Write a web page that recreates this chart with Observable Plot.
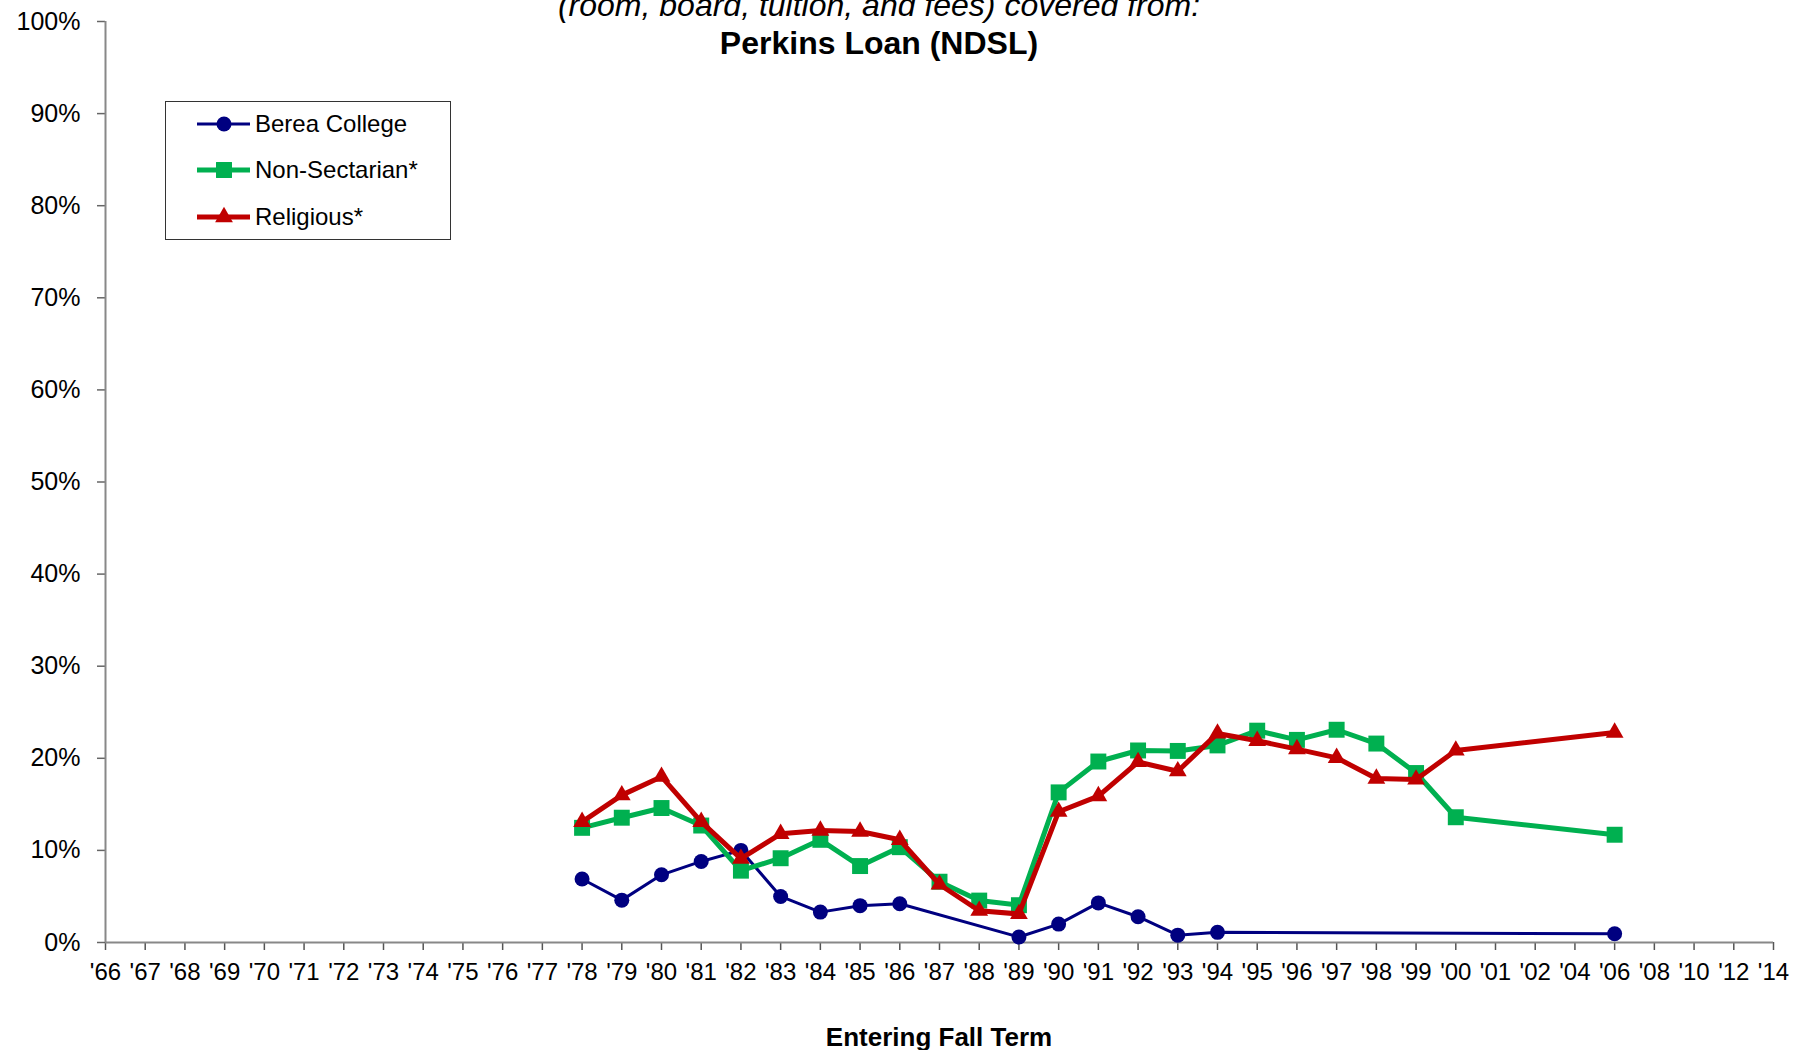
<!DOCTYPE html>
<html>
<head>
<meta charset="utf-8">
<script src="https://cdn.jsdelivr.net/npm/d3@7"></script>
<script src="https://cdn.jsdelivr.net/npm/@observablehq/plot@0.6"></script>
<style>
  html, body { margin: 0; padding: 0; background: #fff; overflow: hidden; }
  #wrap { position: relative; width: 1798px; height: 1050px; font-family: "Liberation Sans", Arial, sans-serif; color: #000; }
  #wrap svg { display: block; }
  .title { position: absolute; left: 0; width: 1758px; text-align: center; font-size: 32px; line-height: 38px; white-space: nowrap; }
  .xtitle { position: absolute; left: 439px; width: 1000px; top: 1022px; text-align: center; font-size: 26px; line-height: 30px; font-weight: bold; }
  .legend { position: absolute; left: 165px; top: 101px; width: 284px; height: 137px; border: 1px solid #333; background: #fff; }
</style>
</head>
<body>
<div id="wrap"></div>
<script>
// ---- data ----
const years = ["'66","'67","'68","'69","'70","'71","'72","'73","'74","'75","'76","'77","'78","'79","'80","'81","'82","'83","'84","'85","'86","'87","'88","'89","'90","'91","'92","'93","'94","'95","'96","'97","'98","'99","'00","'01","'02","'04","'06","'08","'10","'12","'14"];
const yTicks = [0, 0.1, 0.2, 0.3, 0.4, 0.5, 0.6, 0.7, 0.8, 0.9, 1.0];

const seriesNames = ["Berea College", "Non-Sectarian*", "Religious*"];
const seriesColors = ["#000080", "#00B050", "#C00000"];

const bereaYears = ["'78","'79","'80","'81","'82","'83","'84","'85","'86","'89","'90","'91","'92","'93","'94","'06"];
const bereaValues = [6.9, 4.6, 7.35, 8.8, 10.0, 5.0, 3.3, 4.0, 4.2, 0.6, 2.0, 4.3, 2.8, 0.8, 1.1, 0.95];

const nonSecYears = ["'78","'79","'80","'81","'82","'83","'84","'85","'86","'87","'88","'89","'90","'91","'92","'93","'94","'95","'96","'97","'98","'99","'00","'06"];
const nonSecValues = [12.45, 13.55, 14.6, 12.7, 7.8, 9.15, 11.15, 8.3, 10.35, 6.6, 4.55, 4.05, 16.3, 19.65, 20.85, 20.8, 21.4, 23.0, 22.0, 23.1, 21.6, 18.4, 13.6, 11.7];

const religiousYears = ["'78","'79","'80","'81","'82","'83","'84","'85","'86","'87","'88","'89","'90","'91","'92","'93","'94","'95","'96","'97","'98","'99","'00","'06"];
const religiousValues = [13.1, 16.0, 18.0, 13.1, 9.1, 11.8, 12.15, 12.05, 11.15, 6.3, 3.45, 3.1, 14.2, 15.9, 19.6, 18.6, 22.7, 21.9, 21.0, 20.05, 17.8, 17.7, 20.85, 22.8];

const titleLine1 = "(room, board, tuition, and fees) covered from:";
const titleLine2 = "Perkins Loan (NDSL)";
const xTitle = "Entering Fall Term";

// ---- build ----
const mk = (yrs, vals) => yrs.map((y, i) => ({year: y, value: vals[i] / 100}));
const berea = mk(bereaYears, bereaValues);
const nonSec = mk(nonSecYears, nonSecValues);
const religious = mk(religiousYears, religiousValues);

const styles = [
  {symbol: "circle", r: 7.5, lw: 3},
  {symbol: "square", r: 9, lw: 5},
  {symbol: "triangle", r: 6.6, lw: 5}
];
const datasets = [berea, nonSec, religious];

const marks = [
  Plot.axisY({ticks: yTicks, tickFormat: d3.format(".0%"), tickSize: 8, tickPadding: 17, stroke: "#666", strokeWidth: 1.5, fontSize: 25, label: null}),
  Plot.axisX({tickSize: 8, tickPadding: 12, stroke: "#555", strokeWidth: 1.5, fontSize: 24, label: null}),
  Plot.ruleY([0], {stroke: "#888", strokeWidth: 2}),
  Plot.ruleX([years[0]], {stroke: "#888", strokeWidth: 2})
];
datasets.forEach((d, i) => {
  marks.push(Plot.line(d, {x: "year", y: "value", stroke: seriesColors[i], strokeWidth: styles[i].lw}));
  marks.push(Plot.dot(d, {x: "year", y: "value", fill: seriesColors[i], stroke: "none", symbol: styles[i].symbol, r: styles[i].r}));
});

const chart = Plot.plot({
  width: 1798,
  height: 1050,
  marginLeft: 105,
  marginRight: 25,
  marginTop: 21,
  marginBottom: 108,
  style: {fontFamily: "'Liberation Sans', Arial, sans-serif", fontSize: "25px", color: "black", background: "white"},
  x: {type: "point", domain: years, padding: 0},
  y: {domain: [0, 1]},
  marks
});

const wrap = document.getElementById("wrap");
wrap.appendChild(chart);

const t1 = document.createElement("div");
t1.className = "title";
t1.style.top = "-14px";
t1.style.fontStyle = "italic";
t1.textContent = titleLine1;
wrap.appendChild(t1);

const t2 = document.createElement("div");
t2.className = "title";
t2.style.top = "24px";
t2.style.fontWeight = "bold";
t2.textContent = titleLine2;
wrap.appendChild(t2);

const xt = document.createElement("div");
xt.className = "xtitle";
xt.textContent = xTitle;
wrap.appendChild(xt);

// legend
const leg = d3.select(wrap).append("div").attr("class", "legend");
const lsvg = leg.append("svg").attr("width", 284).attr("height", 137);
const rowY = [22, 68, 115];
seriesNames.forEach((name, i) => {
  const g = lsvg.append("g").attr("transform", `translate(0,${rowY[i]})`);
  g.append("line").attr("x1", 31).attr("x2", 84).attr("y1", 0).attr("y2", 0)
    .attr("stroke", seriesColors[i]).attr("stroke-width", styles[i].lw);
  const symMap = {circle: d3.symbolCircle, square: d3.symbolSquare, triangle: d3.symbolTriangle};
  g.append("path").attr("transform", "translate(58,0)")
    .attr("d", d3.symbol(symMap[styles[i].symbol], Math.PI * styles[i].r * styles[i].r)())
    .attr("fill", seriesColors[i]);
  g.append("text").attr("x", 89).attr("y", 0).attr("dy", "0.35em")
    .attr("font-size", 24).attr("font-family", "'Liberation Sans', Arial, sans-serif")
    .attr("fill", "#000").text(name);
});
</script>
</body>
</html>
